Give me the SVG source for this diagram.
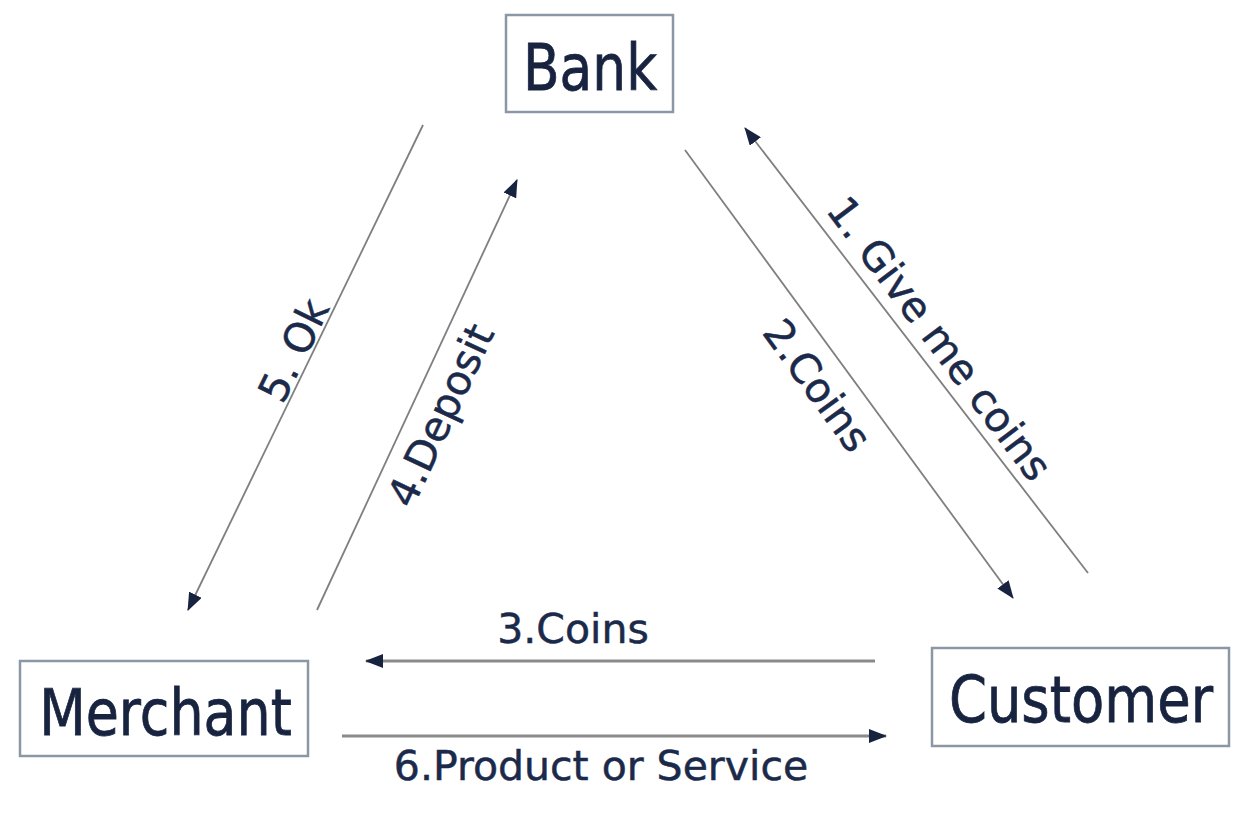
<svg xmlns="http://www.w3.org/2000/svg" width="1246" height="820" viewBox="0 0 1246 820">
<style>
.box{fill:#ffffff;stroke:#8c97a6;stroke-width:2.5}
.node{font-family:"DejaVu Sans","Liberation Sans",sans-serif;font-size:64px;fill:#17233f;stroke:#17233f;stroke-width:0.8;text-anchor:middle}
.lbl{font-family:"DejaVu Sans","Liberation Sans",sans-serif;font-size:41px;fill:#1b2a4a;stroke:#1b2a4a;stroke-width:0.5;text-anchor:middle}
.ln{stroke:#7f7f7f;stroke-width:1.8;fill:none;marker-end:url(#ah)}
.hl{stroke:#8a8a8a;stroke-width:3;fill:none;marker-end:url(#ah)}
</style>
<defs>
<marker id="ah" markerUnits="userSpaceOnUse" markerWidth="18" markerHeight="14" refX="17" refY="7" orient="auto">
<path d="M0,0 L18,7 L0,14 z" fill="#17233f"/>
</marker>
</defs>
<rect width="1246" height="820" fill="#ffffff"/>
<g id="bank">
<rect class="box" x="506" y="15" width="167" height="97"/>
<text class="node" transform="translate(590,90) scale(0.835,1)" x="0" y="0">Bank</text>
</g>
<g id="merchant">
<rect class="box" x="20" y="661" width="288" height="95"/>
<text class="node" transform="translate(165.5,735) scale(0.842,1)" x="0" y="0">Merchant</text>
</g>
<g id="customer">
<rect class="box" x="932" y="648" width="297" height="98"/>
<text class="node" transform="translate(1081,722) scale(0.85,1)" x="0" y="0">Customer</text>
</g>
<g id="connectors">
<line class="ln" x1="1088" y1="573" x2="745" y2="128"/>
<line class="ln" x1="685" y1="150" x2="1013" y2="598"/>
<line class="hl" x1="875" y1="661" x2="366" y2="661"/>
<line class="ln" x1="317" y1="610" x2="517" y2="180"/>
<line class="ln" x1="423" y1="125" x2="188" y2="610"/>
<line class="hl" x1="342" y1="736" x2="886" y2="736"/>
<text class="lbl" transform="translate(940,338) rotate(53)" x="0" y="15">1. Give me coins</text>
<text class="lbl" transform="translate(818,385) rotate(54)" x="0" y="15">2.Coins</text>
<text class="lbl" x="573" y="643">3.Coins</text>
<text class="lbl" transform="translate(440,415) rotate(-65)" x="0" y="15">4.Deposit</text>
<text class="lbl" transform="translate(293,350) rotate(-64)" x="0" y="15">5. Ok</text>
<text class="lbl" x="601" y="780">6.Product or Service</text>
</g>
</svg>
